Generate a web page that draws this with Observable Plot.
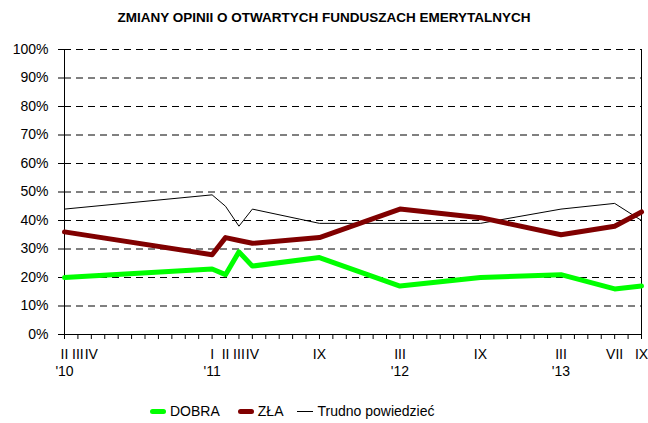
<!DOCTYPE html>
<html>
<head>
<meta charset="utf-8">
<script src="https://cdn.jsdelivr.net/npm/d3@7"></script>
<script src="https://cdn.jsdelivr.net/npm/@observablehq/plot@0.6"></script>
<style>
  body { margin: 0; background: #fff; font-family: Arial, "Liberation Sans", sans-serif; }
  #wrap { width: 648px; height: 423px; position: relative; overflow: hidden; }
  #title { height: 36px; line-height: 36px; text-align: center; font-weight: bold; font-size: 13.5px; color: #000; }
  #legend { position: absolute; top: 398px; left: 150px; height: 26px; display: flex; align-items: center; font-size: 14px; color: #000; }
  .item { display: flex; align-items: center; }
  .sw { display: inline-block; width: 16px; margin-right: 4px; }
</style>
</head>
<body>
<div id="wrap">
  <div id="title">ZMIANY OPINII O OTWARTYCH FUNDUSZACH EMERYTALNYCH</div>
  <div id="chart"></div>
  <div id="legend"></div>
</div>
<script>
// Survey dates (year, month)
const years  = [2010, 2011, 2011, 2011, 2011, 2011, 2012, 2012, 2013, 2013, 2013];
const months = [2,    1,    2,    3,    4,    9,    3,    9,    3,    7,    9];
// Series (%)
const dobra  = [20, 23, 21, 29, 24, 27, 17, 20, 21, 16, 17];
const zla    = [36, 28, 34, 33, 32, 34, 44, 41, 35, 38, 43];
const trudno = [44, 49, 45, 38, 44, 39, 39, 39, 44, 46, 40];

const seriesNames  = ["DOBRA", "ZŁA", "Trudno powiedzieć"];
const seriesColors = ["#00ff00", "#800000", "#000000"];

// Axis labels
const romanYears  = [2010, 2010, 2010, 2011, 2011, 2011, 2011, 2011, 2012, 2012, 2013, 2013, 2013];
const romanMonths = [2, 3, 4, 1, 2, 3, 4, 9, 3, 9, 3, 7, 9];
const romanLabels = ["II", "III", "IV", "I", "II", "III", "IV", "IX", "III", "IX", "III", "VII", "IX"];
const yearYears   = [2010, 2011, 2012, 2013];
const yearMonths  = [2, 1, 3, 3];
const yearLabels  = ["'10", "'11", "'12", "'13"];
const yTicks = [0, 10, 20, 30, 40, 50, 60, 70, 80, 90, 100];

const startYear = 2010, startMonth = 2, endYear = 2013, endMonth = 9;
const idx = (y, m) => (y - startYear) * 12 + (m - startMonth);
const lastIdx = idx(endYear, endMonth);

const rows = [];
[dobra, zla, trudno].forEach((vals, s) => {
  vals.forEach((v, i) => rows.push({series: seriesNames[s], t: idx(years[i], months[i]), v}));
});
const romanPos = romanYears.map((y, i) => idx(y, romanMonths[i]));
const romanMap = new Map(romanPos.map((p, i) => [p, romanLabels[i]]));
const yearPos = yearYears.map((y, i) => idx(y, yearMonths[i]));
const yearMap = new Map(yearPos.map((p, i) => [p, yearLabels[i]]));

const font = 'Arial, "Liberation Sans", sans-serif';

const chart = Plot.plot({
  width: 648,
  height: 360,
  marginLeft: 64,
  marginRight: 7,
  marginTop: 13,
  marginBottom: 62,
  style: {fontFamily: font, fontSize: "14px", color: "#000", background: "#fff"},
  x: {domain: [0, lastIdx]},
  y: {domain: [0, 100]},
  marks: [
    Plot.ruleY(yTicks.filter(d => d > 0), {stroke: "#000", strokeWidth: 1, strokeDasharray: "7,5"}),
    Plot.axisY({ticks: yTicks, tickFormat: d => d + "%", tickSize: 6, tickPadding: 10, label: null, stroke: "#000", fontSize: 14}),
    Plot.axisX({ticks: d3.range(0, lastIdx + 1), tickFormat: () => "", tickSize: 5, label: null, stroke: "#000"}),
    Plot.axisX({ticks: romanPos, tickFormat: d => romanMap.get(d), tickSize: 0, tickPadding: 15, label: null, fontSize: 14}),
    Plot.axisX({ticks: yearPos, tickFormat: d => yearMap.get(d), tickSize: 0, tickPadding: 32, label: null, fontSize: 14}),
    Plot.ruleX([0, lastIdx], {stroke: "#000", strokeWidth: 1}),
    Plot.ruleY([0], {stroke: "#000", strokeWidth: 1}),
    Plot.line(rows.filter(d => d.series === seriesNames[2]), {x: "t", y: "v", stroke: seriesColors[2], strokeWidth: 1}),
    Plot.line(rows.filter(d => d.series === seriesNames[0]), {x: "t", y: "v", stroke: seriesColors[0], strokeWidth: 5, strokeLinejoin: "round"}),
    Plot.line(rows.filter(d => d.series === seriesNames[1]), {x: "t", y: "v", stroke: seriesColors[1], strokeWidth: 5, strokeLinejoin: "round"})
  ]
});
document.getElementById("chart").appendChild(chart);

const legend = document.getElementById("legend");
const gaps = [18, 14, 0];
seriesNames.forEach((name, i) => {
  const item = document.createElement("div");
  item.className = "item";
  item.style.marginRight = gaps[i] + "px";
  const sw = document.createElement("span");
  sw.className = "sw";
  const h = i < 2 ? 5 : 1;
  sw.style.height = h + "px";
  sw.style.background = seriesColors[i];
  sw.style.borderRadius = i < 2 ? "3px" : "0";
  const label = document.createElement("span");
  label.textContent = name;
  item.appendChild(sw);
  item.appendChild(label);
  legend.appendChild(item);
});
</script>
</body>
</html>
